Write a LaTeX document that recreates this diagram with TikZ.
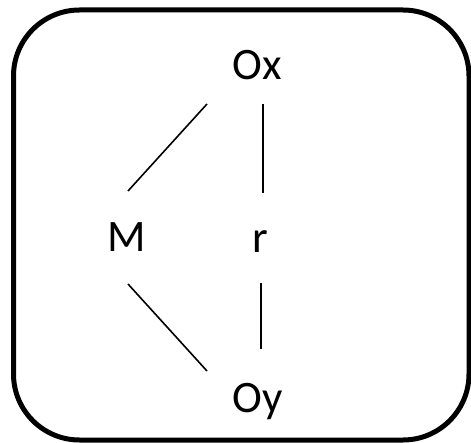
\documentclass[tikz,border=0pt]{standalone}
\usepackage{fontspec}
\setmainfont{Carlito}
\usetikzlibrary{positioning}

\begin{document}
\begin{tikzpicture}[
  x=1pt, y=-1pt,
  %--- text labels ---
  lbl/.style={inner sep=0pt, anchor=base, font=\fontsize{45}{54}\selectfont},
  %--- frame and links ---
  frame/.style={draw=black, line width=5pt, rounded corners=66pt},
  link/.style={draw=black, line width=1.6pt}
]
\useasboundingbox (0,0) rectangle (471,443);

%% ── OUTER FRAME ─────────────────────────────────────────────────────────────
\draw[frame] (13.5,10) rectangle (469,440);

%% ── LABELS ──────────────────────────────────────────────────────────────────
\node[lbl] (ox) at (257.5,80)  {Ox};
\node[lbl] (m)  at (127,252)   {M};
\node[lbl] (r)  at (260,253)   {r};
\node[lbl] (oy) at (257.5,412) {Oy};

%% ── LINKS ───────────────────────────────────────────────────────────────────
\draw[link] ([xshift=-50.5pt,yshift=-24pt]ox.base) -- ([xshift=1pt,yshift=61pt]m.base);
\draw[link] ([xshift=5.5pt,yshift=-24pt]ox.base) -- ([xshift=3pt,yshift=60pt]r.base);
\draw[link] ([xshift=1pt,yshift=-32pt]m.base) -- ([xshift=-50.5pt,yshift=41pt]oy.base);
\draw[link] ([xshift=1pt,yshift=-30pt]r.base) -- ([xshift=3.5pt,yshift=63pt]oy.base);
\end{tikzpicture}
\end{document}
